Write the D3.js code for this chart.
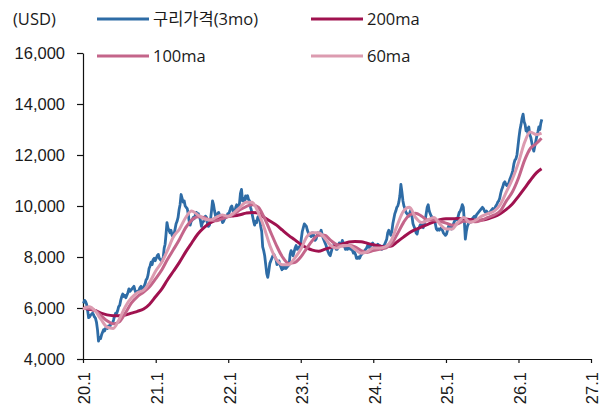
<!DOCTYPE html>
<html>
<head>
<meta charset="utf-8">
<script src="https://cdn.jsdelivr.net/npm/d3@7"></script>
<style>
  html, body { margin: 0; padding: 0; background: #fff; }
  svg { display: block; font-family: "Open Sans", "Noto Sans CJK KR", sans-serif; }
</style>
</head>
<body>
<svg id="chart" width="607" height="410"></svg>
<script>
// Copper 3-month price (USD/t), six readings per month starting Jan 2020
const priceStartMonth = "2020-01";
const priceReadings = [
  // 2020
  [6180, 6300, 6260, 6150, 5900, 5620], [5650, 5720, 5760, 5800, 5740, 5650],
  [5600, 5450, 5150, 4700, 4850, 4800], [4950, 5050, 5150, 5100, 5200, 5250],
  [5200, 5300, 5250, 5350, 5400, 5420], [5550, 5700, 5800, 5780, 5900, 6050],
  [6100, 6300, 6450, 6550, 6450, 6500], [6400, 6500, 6600, 6750, 6650, 6700],
  [6750, 6800, 6850, 6700, 6600, 6650], [6650, 6700, 6800, 6850, 6750, 6700],
  [6850, 6950, 7100, 7150, 7300, 7550], [7650, 7800, 7700, 7900, 7950, 7850],
  // 2021
  [7950, 8050, 8100, 7950, 7900, 7850], [7850, 8000, 8350, 8500, 8900, 9350],
  [9150, 9050, 8950, 9050, 8850, 8800], [8900, 9100, 9300, 9400, 9550, 9850],
  [10050, 10450, 10300, 10150, 10200, 10000], [9950, 9900, 9700, 9400, 9250, 9400],
  [9450, 9550, 9500, 9650, 9750, 9650], [9700, 9600, 9450, 9200, 9350, 9400],
  [9450, 9600, 9550, 9300, 9200, 9250], [9450, 9800, 10200, 10050, 9800, 9600],
  [9550, 9700, 9750, 9650, 9600, 9500], [9350, 9400, 9500, 9550, 9600, 9700],
  // 2022
  [9700, 9800, 9950, 10000, 9850, 9650], [9750, 9950, 10050, 9900, 9950, 10100],
  [10500, 10650, 10200, 10300, 10150, 10400], [10300, 10400, 10250, 10200, 9950, 9800],
  [9600, 9400, 9250, 9400, 9350, 9550], [9600, 9500, 9200, 9000, 8400, 8250],
  [8050, 7700, 7350, 7200, 7450, 7750], [7850, 7950, 8050, 8100, 8000, 7900],
  [7700, 7750, 7850, 7700, 7600, 7500], [7600, 7550, 7650, 7550, 7600, 7650],
  [7700, 8100, 8250, 8150, 8050, 8200], [8350, 8450, 8300, 8350, 8400, 8380],
  // 2023
  [8700, 9000, 9150, 9300, 9250, 9200], [9050, 8950, 8850, 8900, 8800, 8950],
  [8950, 8800, 8650, 8700, 8850, 8950], [8900, 8950, 9050, 8900, 8750, 8650],
  [8550, 8450, 8300, 8200, 8100, 8050], [8200, 8350, 8400, 8500, 8450, 8300],
  [8300, 8400, 8550, 8450, 8500, 8650], [8550, 8450, 8300, 8350, 8300, 8350],
  [8400, 8300, 8350, 8250, 8150, 8200], [8100, 7950, 7950, 8000, 7950, 8050],
  [8100, 8150, 8200, 8250, 8300, 8350], [8450, 8500, 8350, 8450, 8500, 8550],
  // 2024
  [8450, 8350, 8400, 8450, 8500, 8450], [8450, 8350, 8300, 8400, 8450, 8500],
  [8600, 8700, 8950, 9050, 8950, 8850], [9000, 9300, 9500, 9700, 9800, 9950],
  [10000, 10150, 10400, 10850, 10550, 10200], [10000, 9900, 9750, 9700, 9650, 9600],
  [9750, 9850, 9600, 9300, 9200, 9100], [8950, 8900, 9100, 9150, 9250, 9300],
  [9200, 9150, 9300, 9450, 9700, 9950], [10050, 9800, 9700, 9600, 9550, 9500],
  [9450, 9300, 9100, 9050, 9100, 9050], [9100, 9150, 9050, 8950, 8900, 8850],
  // 2025
  [8900, 9050, 9200, 9250, 9200, 9100], [9150, 9300, 9400, 9450, 9500, 9450],
  [9600, 9750, 9800, 9900, 10050, 9950], [9400, 8700, 9000, 9200, 9300, 9350],
  [9350, 9450, 9500, 9550, 9600, 9550], [9650, 9700, 9750, 9800, 9850, 9900],
  [9950, 9900, 9800, 9750, 9800, 9700], [9700, 9750, 9800, 9850, 9900, 9850],
  [9900, 10000, 10050, 10150, 10200, 10300], [10500, 10650, 10750, 10900, 10950, 10850],
  [10800, 10850, 10900, 11050, 11150, 11250], [11400, 11650, 11800, 11850, 12000, 12350],
  // 2026
  [12700, 13000, 13200, 13450, 13600, 13300], [13200, 12950, 13050, 12850, 13100, 12800],
  [12700, 12500, 12300, 12150, 12350, 12550], [12750, 12900, 13100, 13000, 13250, 13400]
];

// Moving averages, one value at the start of each month from Jan 2020, plus the last trading day
const maLastDate = "2026-04-27";
const ma200 = [
  6000, 5950, 5900, 5800, 5730, 5700, 5700, 5720, 5800, 5870, 5960, 6150,
  6450, 6750, 7100, 7450, 7800, 8200, 8550, 8900, 9150, 9330, 9450, 9550,
  9600, 9620, 9660, 9720, 9750, 9720, 9550, 9400, 9250, 9050, 8850, 8680,
  8500, 8360, 8270, 8230, 8300, 8380, 8450, 8520, 8590, 8610, 8600, 8540,
  8480, 8430, 8400, 8430, 8600, 8780, 8950, 9080, 9180, 9280, 9380, 9460,
  9500, 9500, 9510, 9500, 9470, 9440, 9450, 9500, 9580, 9700, 9870, 10080,
  10380, 10700, 11000, 11300, 11460
];
const ma100 = [
  5980, 5980, 5900, 5700, 5500, 5380, 5450, 5800, 6200, 6450, 6620, 6830,
  7150, 7500, 7900, 8300, 8700, 9150, 9450, 9580, 9550, 9450, 9420, 9500,
  9580, 9700, 9850, 9980, 10050, 9950, 9550, 9000, 8450, 8000, 7750, 7780,
  8000, 8350, 8650, 8850, 8850, 8650, 8480, 8430, 8450, 8400, 8250, 8180,
  8250, 8300, 8350, 8500, 8900, 9350, 9650, 9720, 9600, 9450, 9450, 9400,
  9330, 9250, 9300, 9400, 9400, 9380, 9450, 9550, 9650, 9800, 10200, 10550,
  11100, 11800, 12250, 12450, 12660
];
const ma60 = [
  5960, 6050, 5900, 5550, 5250, 5200, 5550, 6050, 6400, 6600, 6700, 7000,
  7450, 7800, 8250, 8800, 9100, 9550, 9800, 9650, 9500, 9450, 9550, 9650,
  9600, 9750, 9950, 10150, 10150, 9750, 9150, 8400, 7900, 7700, 7700, 7950,
  8300, 8800, 8950, 8950, 8750, 8450, 8350, 8450, 8450, 8300, 8150, 8200,
  8350, 8350, 8400, 8650, 9250, 9800, 9950, 9550, 9350, 9450, 9550, 9300,
  9100, 9100, 9350, 9550, 9350, 9450, 9600, 9700, 9800, 10050, 10550, 11050,
  11700, 12500, 12900, 12800, 12860
];

const yTicks = [4000, 6000, 8000, 10000, 12000, 14000, 16000];
const xTickDates = ["2020-01", "2021-01", "2022-01", "2023-01", "2024-01", "2025-01", "2026-01", "2027-01"];
const xTickLabels = ["20.1", "21.1", "22.1", "23.1", "24.1", "25.1", "26.1", "27.1"];
const seriesNames = ["구리가격(3mo)", "200ma", "100ma", "60ma"];
const seriesColors = ["#2e6ca6", "#a0124f", "#c4658a", "#dc9bb0"];
const unitLabel = "(USD)";

const parseMonth = d3.utcParse("%Y-%m");
const parseDay = d3.utcParse("%Y-%m-%d");

// Spread each month's readings evenly through that month
const startMonth = parseMonth(priceStartMonth);
const priceData = [];
priceReadings.forEach((vals, i) => {
  const m0 = d3.utcMonth.offset(startMonth, i);
  const m1 = d3.utcMonth.offset(startMonth, i + 1);
  vals.forEach((v, j) => {
    const t = +m0 + (m1 - m0) * (j + 0.5) / vals.length;
    priceData.push({ date: new Date(t), value: v });
  });
});

function maSeries(vals) {
  return vals.map((v, i) => ({
    date: i < vals.length - 1 ? d3.utcMonth.offset(startMonth, i) : parseDay(maLastDate),
    value: v
  }));
}

const svg = d3.select("#chart");
const margin = { left: 83, right: 16, top: 53, bottom: 51 };
const W = 607, H = 410;
const fontSize = 16.5;
const textColor = "#1a1a1a";

const x = d3.scaleUtc()
  .domain([parseMonth(xTickDates[0]), parseMonth(xTickDates[xTickDates.length - 1])])
  .range([margin.left, W - margin.right]);
const y = d3.scaleLinear()
  .domain([yTicks[0], yTicks[yTicks.length - 1]])
  .range([H - margin.bottom, margin.top]);

// Axes
const yAxis = d3.axisLeft(y)
  .tickValues(yTicks)
  .tickSize(6)
  .tickSizeOuter(0)
  .tickPadding(12)
  .tickFormat(d3.format(","));
const gy = svg.append("g")
  .attr("transform", `translate(${margin.left},0)`)
  .call(yAxis);
gy.selectAll("text").attr("font-size", fontSize).attr("fill", textColor).style("font-family", "inherit");

const xAxis = d3.axisBottom(x)
  .tickValues(xTickDates.map(parseMonth))
  .tickSize(4)
  .tickSizeOuter(0)
  .tickFormat((d, i) => xTickLabels[i]);
const gx = svg.append("g")
  .attr("transform", `translate(0,${H - margin.bottom})`)
  .call(xAxis);
gx.selectAll("text")
  .attr("font-size", fontSize)
  .attr("fill", textColor)
  .style("font-family", "inherit")
  .attr("text-anchor", "end")
  .attr("transform", "rotate(-90)")
  .attr("x", -13)
  .attr("y", 1)
  .attr("dy", "0.35em");
svg.selectAll(".domain, .tick line").attr("stroke", "#111").attr("stroke-width", 1.2);

// Lines
const line = d3.line()
  .x(d => x(d.date))
  .y(d => y(d.value));
const smooth = d3.line()
  .x(d => x(d.date))
  .y(d => y(d.value))
  .curve(d3.curveMonotoneX);

svg.append("path")
  .datum(priceData)
  .attr("fill", "none")
  .attr("stroke", seriesColors[0])
  .attr("stroke-width", 2.8)
  .attr("stroke-linejoin", "round")
  .attr("d", line);

[[ma200, 1], [ma100, 2], [ma60, 3]].forEach(([vals, k]) => {
  svg.append("path")
    .datum(maSeries(vals))
    .attr("fill", "none")
    .attr("stroke", seriesColors[k])
    .attr("stroke-width", 3)
    .attr("stroke-linejoin", "round")
    .attr("d", smooth);
});

// Unit label and legend
svg.append("text")
  .attr("x", 13).attr("y", 19)
  .attr("dy", "0.35em")
  .attr("font-size", fontSize)
  .attr("fill", textColor)
  .text(unitLabel);

const legendPos = [[97, 19], [311, 19], [97, 56], [311, 56]];
seriesNames.forEach((name, i) => {
  const [lx, ly] = legendPos[i];
  svg.append("line")
    .attr("x1", lx).attr("x2", lx + 52)
    .attr("y1", ly).attr("y2", ly)
    .attr("stroke", seriesColors[i])
    .attr("stroke-width", 3);
  svg.append("text")
    .attr("x", lx + 56).attr("y", ly)
    .attr("dy", "0.35em")
    .attr("font-size", fontSize)
    .attr("fill", textColor)
    .text(name);
});
</script>
</body>
</html>
